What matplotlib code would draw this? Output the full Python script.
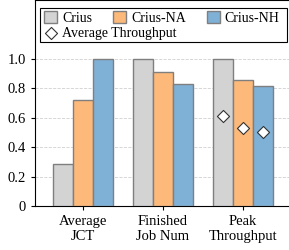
import matplotlib.pyplot as plt
import numpy as np
from matplotlib.patches import Rectangle

plt.rcParams['font.family'] = ['Liberation Serif', 'DejaVu Serif']

categorias = ['Average\nJCT', 'Finished\nJob Num', 'Peak\nThroughput']
crius = [0.284, 1.0, 1.0]
crius_na = [0.721, 0.909, 0.857]
crius_nh = [1.0, 0.828, 0.818]
avg_throughput = [0.612, 0.528, 0.506]  # solo para Peak Throughput

colores = ['#d3d3d3', '#fdb97a', '#7fb0d5']
nombres = ['Crius', 'Crius-NA', 'Crius-NH']

fig = plt.figure(figsize=(2.89, 2.5), dpi=100)
ax = fig.add_axes([35/289, 44/250, 256/289, 206/250])

x = np.arange(len(categorias))
ancho = 0.25
barras = []
for i, (serie, col, nom) in enumerate(zip([crius, crius_na, crius_nh], colores, nombres)):
    b = ax.bar(x + (i - 1) * ancho, serie, ancho, color=col, edgecolor='#7f7f7f',
               linewidth=1.0, label=nom, zorder=3)
    barras.append(b)

# diamantes sobre las barras del último grupo
diam = ax.scatter(x[2] + (np.arange(3) - 1) * ancho, avg_throughput, marker='D', s=38,
                  facecolor='white', edgecolor='#333333', linewidth=0.8, zorder=4,
                  label='Average Throughput')

ax.set_xlim(-0.6, 2.6)
ax.set_ylim(0, 1.4)
ax.set_yticks([0, 0.2, 0.4, 0.6, 0.8, 1.0])
ax.set_yticklabels(['0', '0.2', '0.4', '0.6', '0.8', '1.0'])
ax.set_xticks(x)
ax.set_xticklabels(categorias)
ax.tick_params(axis='both', labelsize=10.5, length=3, width=0.8)
ax.grid(axis='y', color='#d0d0d0', linestyle='--', linewidth=0.6, zorder=0)
ax.set_axisbelow(True)
ax.spines['right'].set_visible(False)

# marco de la leyenda
ax.add_patch(Rectangle((5/256, 1 - 42/206), 247/256, 34/206, transform=ax.transAxes,
                       facecolor='white', edgecolor='black', linewidth=0.8,
                       zorder=5, clip_on=False))

leg1 = ax.legend(handles=barras, labels=nombres, loc='upper left', ncol=3, fontsize=10,
                 frameon=False, bbox_to_anchor=(9/256, 1 - 11/206),
                 handlelength=0.95, handleheight=0.95, handletextpad=0.35,
                 columnspacing=1.5, borderaxespad=0, borderpad=0)
leg1.set_zorder(6)
ax.add_artist(leg1)
leg2 = ax.legend(handles=[diam], labels=['Average Throughput'], loc='upper left',
                 fontsize=10, frameon=False, bbox_to_anchor=(9/256, 1 - 27/206),
                 handlelength=0.95, handletextpad=0.35, borderaxespad=0, borderpad=0)
leg2.set_zorder(6)

fig.savefig('out.png', dpi=100)
